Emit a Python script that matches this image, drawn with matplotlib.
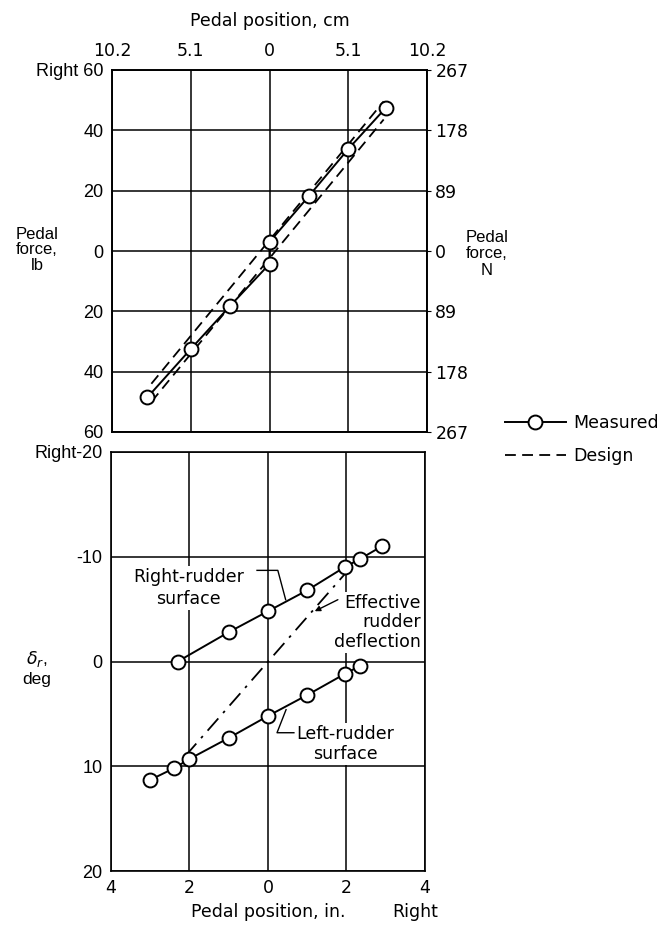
import numpy as np
import matplotlib.pyplot as plt
from matplotlib.lines import Line2D

narrow = ['Liberation Sans Narrow', 'DejaVu Sans']
wide = ['Liberation Sans', 'DejaVu Sans']
plt.rcParams['font.family'] = narrow
plt.rcParams['font.size'] = 12.5

# upper plot: pedal force vs pedal position
pos_in = [-3.1, -2.0, -1.0, 0.0, 0.0, 1.0, 2.0, 2.95]
force_lb = [-48.5, -32.5, -18.2, -4.3, 3.0, 18.2, 33.8, 47.4]
design_x = [-3.0, 2.9]
design_hi = [-44.0, 49.6]
design_lo = [-50.0, 43.6]

force_ticks = [-60, -40, -20, 0, 20, 40, 60]
force_labels = ["60", "40", "20", "0", "20", "40", "Right 60"]
newton_labels = ["267", "178", "89", "0", "89", "178", "267"]
pos_ticks = [-4, -2, 0, 2, 4]
cm_labels = ["10.2", "5.1", "0", "5.1", "10.2"]
in_labels = ["4", "2", "0", "2", "4"]

# lower plot: rudder deflection vs pedal position
rr_x = [-2.3, -1.0, 0.0, 1.0, 1.95, 2.35, 2.9]
rr_y = [0.0, -2.8, -4.8, -6.8, -9.0, -9.8, -11.0]
lr_x = [-3.0, -2.4, -2.0, -1.0, 0.0, 1.0, 1.95, 2.35]
lr_y = [11.3, 10.2, 9.3, 7.3, 5.2, 3.2, 1.2, 0.4]
eff_x = [-2.1, 2.25]
eff_y = [9.0, -9.6]
defl_ticks = [-20, -10, 0, 10, 20]
defl_labels = ["Right-20", "-10", "0", "10", "20"]

fig = plt.figure(figsize=(6.71, 9.27), dpi=100)
W, H = 671, 927


def box(l, t, r, b):
    return [l / W, 1 - b / H, (r - l) / W, (b - t) / H]


mk = dict(marker='o', markersize=10, markerfacecolor='white',
          markeredgecolor='black', markeredgewidth=1.4)

# ---------- upper ----------
ax1 = fig.add_axes(box(112, 70, 427, 432))
ax1.plot(design_x, design_hi, color='black', lw=1.3, dashes=(6, 3.5), zorder=3)
ax1.plot(design_x, design_lo, color='black', lw=1.3, dashes=(6, 3.5), zorder=3)
ax1.plot(pos_in, force_lb, color='black', lw=1.4, zorder=4, **mk)
ax1.set_xlim(-4, 4)
ax1.set_ylim(-60, 60)
ax1.set_yticks(force_ticks)
ax1.set_yticklabels(force_labels, family=wide, fontsize=13)
ax1.set_xticks(pos_ticks)
ax1.xaxis.tick_top()
ax1.set_xticklabels(cm_labels)
ax1.tick_params(length=0, pad=7)
ax1.tick_params(axis='y', pad=6)
ax1.grid(True, color='black', lw=1.1)
ax1.set_axisbelow(True)
ax1.set_xlabel("Pedal position, cm", labelpad=12)
ax1.xaxis.set_label_position('top')

ax1r = ax1.twinx()
ax1r.set_ylim(-60, 60)
ax1r.set_yticks(force_ticks)
ax1r.set_yticklabels(newton_labels)
ax1r.tick_params(length=3, pad=3)

for a in (ax1, ax1r):
    for s in a.spines.values():
        s.set_linewidth(1.2)

fig.text(37 / W, 1 - 250 / H, "Pedal\nforce,\nlb", ha='center', va='center',
         family=wide, fontsize=12, linespacing=1.05)
fig.text(487 / W, 1 - 254 / H, "Pedal\nforce,\nN", ha='center', va='center',
         family=wide, fontsize=12, linespacing=1.1)

# legend
h_meas = Line2D([], [], color='black', lw=1.4, **mk)
h_des = Line2D([], [], color='black', lw=1.3, dashes=(6, 3.5))
fig.legend([h_meas, h_des], ["Measured", "Design"], loc='upper left',
           bbox_to_anchor=(505 / W, 1 - 414 / H), frameon=False,
           handlelength=3.5, handletextpad=0.45, labelspacing=0.85,
           fontsize=12.5, borderaxespad=0, borderpad=0)

# ---------- lower ----------
ax2 = fig.add_axes(box(111, 452, 425, 871))
ax2.plot(eff_x, eff_y, color='black', lw=1.3, dashes=(9, 4, 1.5, 4), zorder=3)
ax2.plot(rr_x, rr_y, color='black', lw=1.4, zorder=4, **mk)
ax2.plot(lr_x, lr_y, color='black', lw=1.4, zorder=4, **mk)
ax2.set_xlim(-4, 4)
ax2.set_ylim(20, -20)
ax2.set_yticks(defl_ticks)
ax2.set_yticklabels(defl_labels, family=wide, fontsize=13)
ax2.set_xticks(pos_ticks)
ax2.set_xticklabels(in_labels)
ax2.tick_params(length=0, pad=6)
ax2.grid(True, color='black', lw=1.1)
ax2.set_axisbelow(True)
for s in ax2.spines.values():
    s.set_linewidth(1.2)
ax2.set_xlabel("Pedal position, in.", labelpad=4)

fig.text(415 / W, 1 - 912 / H, "Right", ha='center', va='center')
fig.text(37 / W, 1 - 668 / H, "$\\delta_r$,\ndeg", ha='center', va='center',
         family=wide, fontsize=12.5, linespacing=1.2)

wbox = dict(facecolor='white', edgecolor='none', pad=1.5)
ax2.text(-2.03, -7.0, "Right-rudder\nsurface", ha='center', va='center',
         linespacing=1.25, bbox=wbox, zorder=2)
ax2.plot([-0.28, 0.25, 0.45], [-8.7, -8.7, -5.9], color='black', lw=1.0)

ax2.text(2.79, -3.75, "Effective\nrudder\ndeflection", ha='center', va='center',
         multialignment='right', linespacing=1.1, bbox=wbox, zorder=2)
ax2.annotate("", xy=(1.19, -4.8), xytext=(1.78, -5.9),
             arrowprops=dict(arrowstyle='-|>', color='black', lw=1.0,
                             mutation_scale=8, shrinkA=0, shrinkB=0))

ax2.text(1.96, 7.9, "Left-rudder\nsurface", ha='center', va='center',
         linespacing=1.15, bbox=wbox, zorder=2)
ax2.plot([0.66, 0.23, 0.46], [6.8, 6.8, 4.6], color='black', lw=1.0)

fig.savefig("out.png", dpi=100)
